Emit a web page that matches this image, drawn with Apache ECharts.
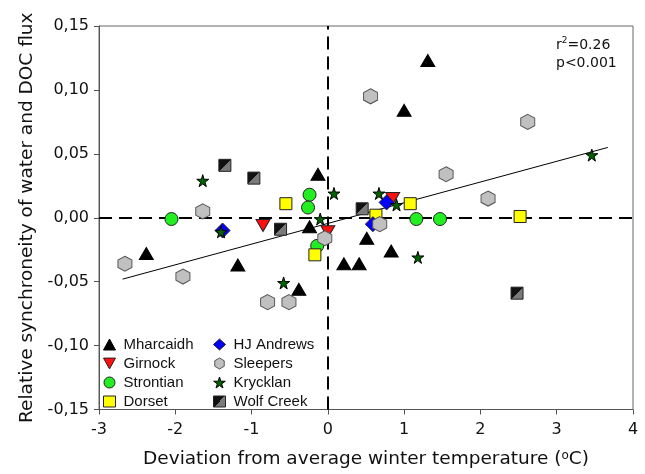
<!DOCTYPE html>
<html>
<head>
<meta charset="utf-8">
<script src="https://cdn.jsdelivr.net/npm/echarts@6/dist/echarts.min.js"></script>
<style>
  html, body { margin: 0; padding: 0; background: #fff; }
  #chart { width: 645px; height: 474px; }
</style>
</head>
<body>
<div id="chart"></div>
<script>
// points, [deviation (oC), relative synchroneity]
var mharcaidh = [[1.31, 0.123], [1.0, 0.084], [-0.13, 0.034], [-2.38, -0.028], [-1.18, -0.037],
  [-0.38, -0.056], [-0.24, -0.007], [0.51, -0.016], [0.83, -0.026], [0.21, -0.036], [0.41, -0.036]];
var girnock = [[-0.85, -0.006], [0.0, -0.011], [0.85, 0.015]];
var strontian = [[-2.05, -0.001], [-0.24, 0.018], [-0.26, 0.008], [-0.14, -0.022], [1.16, -0.001], [1.47, -0.001]];
var dorset = [[-0.55, 0.011], [-0.17, -0.029], [0.63, 0.002], [1.08, 0.011], [2.52, 0.001]];
var hjAndrews = [[-1.38, -0.010], [0.77, 0.012], [0.59, -0.005]];
var sleepers = [[-2.66, -0.036], [-1.64, 0.005], [-1.90, -0.046], [-0.79, -0.066], [-0.51, -0.066],
  [-0.04, -0.016], [0.56, 0.095], [2.62, 0.075], [1.55, 0.034], [2.10, 0.015], [0.68, -0.005]];
var krycklan = [[-1.64, 0.029], [-1.40, -0.011], [-0.58, -0.051], [-0.10, -0.001], [0.08, 0.019],
  [0.67, 0.019], [0.90, 0.010], [1.18, -0.031], [3.46, 0.049]];
var wolfCreek = [[-1.35, 0.041], [-0.97, 0.031], [-0.62, -0.009], [0.45, 0.007], [2.48, -0.059]];

// regression line end points
var fitX = [-2.69, 3.67];
var fitY = [-0.048, 0.055];

var xTicks = [-3, -2, -1, 0, 1, 2, 3, 4];
var yTicks = [-0.15, -0.10, -0.05, 0.00, 0.05, 0.10, 0.15];

var FONT = 'Liberation Sans, Arial, sans-serif';
var WIDE = 'DejaVu Sans, Verdana, sans-serif';

var triDown = 'path://M0,0L10,0L5,9Z';
var hexagon = 'path://M50,0L93,25L93,75L50,100L7,75L7,25Z';
var star = 'path://M50,0L61,35L98,35L68,57L79,91L50,70L21,91L32,57L2,35L39,35Z';

var wolfFill = new echarts.graphic.LinearGradient(0, 0, 1, 1, [
  { offset: 0, color: '#111' }, { offset: 0.5, color: '#111' },
  { offset: 0.5, color: '#7a7a7a' }, { offset: 1, color: '#7a7a7a' }
]);

function pts(name, data, symbol, size, color, border) {
  return {
    name: name,
    type: 'scatter',
    data: data,
    symbol: symbol,
    symbolSize: size,
    z: 5,
    itemStyle: { color: color, borderColor: border, borderWidth: 1, opacity: 1 },
    emphasis: { disabled: true }
  };
}

function legendCol(left, names) {
  return {
    left: left, top: 331, orient: 'vertical',
    itemWidth: 12, itemHeight: 11, itemGap: 2,
    itemStyle: { borderWidth: 1 },
    textStyle: { fontSize: 15, lineHeight: 17, color: '#111', fontFamily: FONT, padding: [0, 0, 0, 3] },
    data: names,
    selectedMode: false
  };
}

var chart = echarts.init(document.getElementById('chart'), null, { renderer: 'canvas' });

var option = {
  animation: false,
  backgroundColor: '#fff',
  textStyle: { fontFamily: FONT },
  grid: {
    left: 99, right: 12, top: 26, bottom: 63,
    show: true, borderColor: '#666', borderWidth: 1
  },
  xAxis: {
    type: 'value',
    min: xTicks[0], max: xTicks[xTicks.length - 1], interval: 1,
    name: 'Deviation from average winter temperature ({sup|o}C)',
    nameLocation: 'middle', nameGap: 40,
    nameTextStyle: {
      fontSize: 18.5, color: '#111', fontFamily: WIDE,
      rich: { sup: { fontSize: 12, verticalAlign: 'top', padding: [0, 0, 8, 0], color: '#111', fontFamily: WIDE } }
    },
    axisLine: { onZero: false, lineStyle: { color: '#555', width: 1 } },
    axisTick: { show: true, inside: false, length: 5, lineStyle: { color: '#555' } },
    axisLabel: { fontSize: 16, color: '#111', margin: 12, fontFamily: WIDE },
    splitLine: { show: false }
  },
  yAxis: {
    type: 'value',
    min: yTicks[0], max: yTicks[yTicks.length - 1], interval: 0.05,
    name: 'Relative synchroneity of water and DOC flux',
    nameLocation: 'middle', nameGap: 61,
    nameTextStyle: { fontSize: 18.5, color: '#111', fontFamily: WIDE },
    axisLine: { onZero: false, lineStyle: { color: '#555', width: 1 } },
    axisTick: { show: true, inside: false, length: 5, lineStyle: { color: '#555' } },
    axisLabel: {
      fontSize: 16, color: '#111', margin: 10, fontFamily: WIDE,
      formatter: function (v) { return v.toFixed(2).replace('.', ','); }
    },
    splitLine: { show: false }
  },
  legend: [
    legendCol(98, ['Mharcaidh', 'Girnock', 'Strontian', 'Dorset']),
    legendCol(208, ['HJ Andrews', 'Sleepers', 'Krycklan', 'Wolf Creek'])
  ],
  graphic: [
    {
      type: 'text', left: 556, top: 36,
      style: {
        text: 'r{sup|2}=0.26\np<0.001',
        fontSize: 14, lineHeight: 18, fill: '#111', fontFamily: WIDE,
        rich: { sup: { fontSize: 9, verticalAlign: 'top', padding: [0, 0, 6, 0], fill: '#111', fontFamily: WIDE } }
      }
    }
  ],
  series: [
    {
      name: 'fit',
      type: 'line',
      data: fitX.map(function (x, i) { return [x, fitY[i]]; }),
      symbol: 'none',
      z: 2,
      lineStyle: { color: '#000', width: 1 },
      emphasis: { disabled: true },
      markLine: {
        silent: true,
        symbol: 'none',
        label: { show: false },
        lineStyle: { color: '#000', width: 2, type: [13, 7] },
        data: [{ xAxis: 0 }, { yAxis: 0 }]
      }
    },
    pts('Mharcaidh', mharcaidh, 'triangle', [14, 12], '#000', '#000'),
    pts('Girnock', girnock, triDown, [14, 12], '#ff1010', '#222'),
    pts('Strontian', strontian, 'circle', 13, '#22ee22', '#222'),
    pts('Dorset', dorset, 'rect', 12, '#ffff00', '#222'),
    pts('HJ Andrews', hjAndrews, 'diamond', [15, 15], '#0000ff', '#222'),
    pts('Sleepers', sleepers, hexagon, [14, 15], '#c0c0c0', '#555'),
    pts('Krycklan', krycklan, star, 12, '#006400', '#000'),
    pts('Wolf Creek', wolfCreek, 'rect', 12, wolfFill, '#222')
  ]
};

chart.setOption(option);
</script>
</body>
</html>
